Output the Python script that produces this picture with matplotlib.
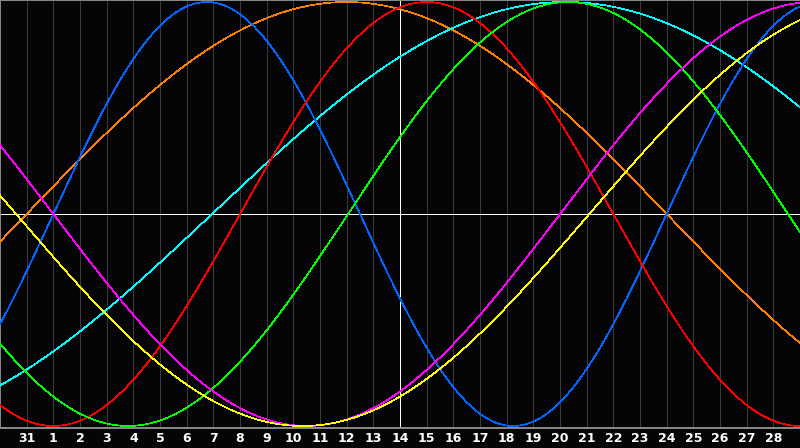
import numpy as np
import matplotlib
matplotlib.use('Agg')
import matplotlib.pyplot as plt

# day labels along the bottom (one per grid line), first one is the 31st of previous month
day_labels = ['31'] + [str(d) for d in range(1, 29)]
day_positions = list(range(-1, 28))      # days counted from the 1st (t = 0)
today = 13                               # the 14th, white marker line

# cycles: period in days, day of upward zero crossing
cycle_names = ['physical', 'emotional', 'intellectual', 'intuitive',
               'aesthetic', 'awareness', 'spiritual']
cycle_periods = [23, 28, 33, 38, 43, 48, 53]
cycle_zero_days = [0.0, 7.0, 11.05, 19.0, 20.1, -1.0, 5.95]
cycle_colors = ['#0066ff', '#ff0000', '#00ff00', '#ff00ff',
                '#ffff00', '#ff8000', '#00ffff']

BG = '#050508'
PX = 0.72  # one pixel at 100 dpi

fig = plt.figure(figsize=(8, 4.48), dpi=100, facecolor=BG)
ax = fig.add_axes([0, 20 / 448, 1, 428 / 448])
ax.set_facecolor(BG)

t = np.linspace(-2, 28, 1600)
ax.set_xlim(-2, 28)
ax.set_ylim(-214 / 212, 214 / 212)

for p in day_positions:
    if p == today:
        continue
    ax.axvline(p, color='#3a3a3a', lw=PX, antialiased=False, zorder=1)
ax.axvline(today, color='white', lw=PX, antialiased=False, zorder=2)
ax.axhline(0, color='white', lw=PX, antialiased=False, zorder=2)

# draw order roughly as in the picture
order = [5, 6, 0, 1, 2, 3, 4]
for i in order:
    y = np.sin(2 * np.pi * (t - cycle_zero_days[i]) / cycle_periods[i])
    ax.plot(t, y, color=cycle_colors[i], lw=0.5, antialiased=False, zorder=3)

for side in ['left', 'top', 'bottom']:
    ax.spines[side].set_color('#8a8a8a')
    ax.spines[side].set_linewidth(1.4)
ax.spines['right'].set_visible(False)

ax.set_xticks(day_positions)
ax.set_xticklabels(day_labels, color='white', fontsize=9, fontweight='bold',
                   fontfamily='DejaVu Sans')
ax.tick_params(axis='x', length=0, pad=3)
ax.set_yticks([])

fig.savefig('out.png', dpi=100, facecolor=BG)
